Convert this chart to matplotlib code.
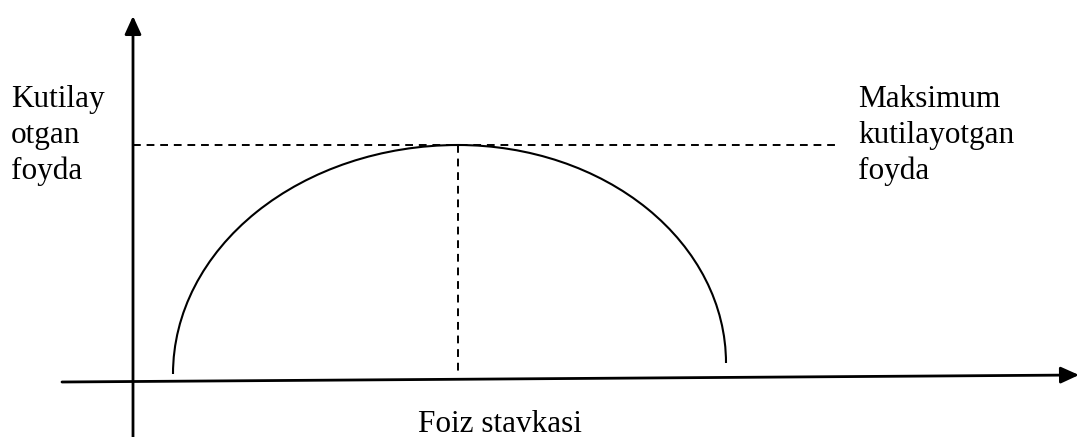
import matplotlib
matplotlib.use("Agg")
import matplotlib.pyplot as plt
from matplotlib.patches import Arc

# picture is drawn in pixel units (y grows downwards)
W, H = 1079, 437

y_axis = [(133, 437), (133, 16)]
x_axis = [(62, 382), (1079, 375)]

peak = (458, 145)
left_end = (173, 374)
right_end = (726, 363)

hline_end = 837
vline_bottom = 374

left_label = ["Kutilay", "otgan", "foyda"]
right_label = ["Maksimum", "kutilayotgan", "foyda"]
x_label = "Foiz stavkasi"
label_baselines = [107, 143, 179]

plt.rcParams['font.family'] = ['Liberation Serif', 'DejaVu Serif']

fig = plt.figure(figsize=(W / 100, H / 100), dpi=100)
ax = fig.add_axes([0, 0, 1, 1])
ax.set_xlim(0, W)
ax.set_ylim(H, 0)
ax.axis("off")

arrow = dict(arrowstyle="-|>,head_length=1.1,head_width=0.5", color="black",
             lw=2.0, shrinkA=0, shrinkB=0, mutation_scale=10)
ax.annotate("", xy=y_axis[1], xytext=y_axis[0], arrowprops=arrow)
ax.annotate("", xy=x_axis[1], xytext=x_axis[0], arrowprops=arrow)

# curve: two quarter ellipses meeting at the peak
lw_curve = 1.5
ax.add_patch(Arc((peak[0], left_end[1]), 2 * (peak[0] - left_end[0]),
                 2 * (left_end[1] - peak[1]), theta1=180, theta2=270,
                 color="black", lw=lw_curve))
ax.add_patch(Arc((peak[0], right_end[1]), 2 * (right_end[0] - peak[0]),
                 2 * (right_end[1] - peak[1]), theta1=270, theta2=360,
                 color="black", lw=lw_curve))

# dashed guides
ax.plot([y_axis[0][0], hline_end], [peak[1], peak[1]], color="black",
        lw=1.4, dashes=(4, 3))
ax.plot([peak[0], peak[0]], [peak[1], vline_bottom], color="black",
        lw=1.4, dashes=(4, 3))

fs = 22.5
for txt, yb in zip(left_label, label_baselines):
    ax.text(11, yb, txt, fontsize=fs, va="baseline", ha="left")
for txt, yb in zip(right_label, label_baselines):
    ax.text(858, yb, txt, fontsize=fs, va="baseline", ha="left")
ax.text(500, 432, x_label, fontsize=fs, va="baseline", ha="center")

fig.savefig("out.png", dpi=100)
